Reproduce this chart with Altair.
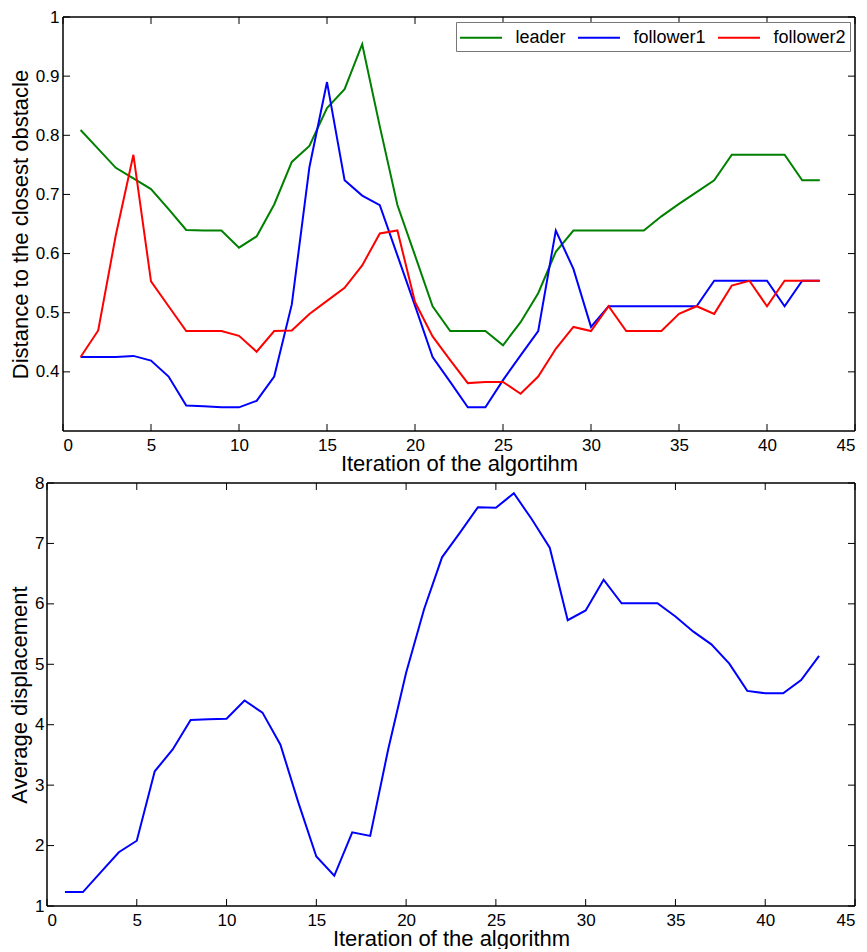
import altair as alt
import pandas as pd

# ---------------- data ----------------
iterations = list(range(1, 44))

leader = [0.809, 0.777, 0.745, 0.727, 0.709, 0.675, 0.640, 0.639, 0.639, 0.610,
          0.629, 0.683, 0.755, 0.782, 0.846, 0.878, 0.954, 0.815, 0.682, 0.597,
          0.511, 0.469, 0.469, 0.469, 0.445, 0.484, 0.533, 0.603, 0.639, 0.639,
          0.639, 0.639, 0.639, 0.663, 0.684, 0.704, 0.724, 0.767, 0.767, 0.767,
          0.767, 0.724, 0.724]

follower1 = [0.425, 0.425, 0.425, 0.427, 0.419, 0.392, 0.343, 0.342, 0.340, 0.340,
             0.351, 0.392, 0.514, 0.746, 0.890, 0.724, 0.698, 0.682, 0.597, 0.512,
             0.425, 0.383, 0.340, 0.340, 0.386, 0.428, 0.469, 0.639, 0.574, 0.476,
             0.511, 0.511, 0.511, 0.511, 0.511, 0.511, 0.554, 0.554, 0.554, 0.554,
             0.511, 0.554, 0.554]

follower2 = [0.425, 0.470, 0.631, 0.767, 0.553, 0.511, 0.469, 0.469, 0.469, 0.461,
             0.434, 0.469, 0.470, 0.498, 0.520, 0.542, 0.580, 0.634, 0.639, 0.518,
             0.460, 0.420, 0.381, 0.383, 0.383, 0.363, 0.392, 0.439, 0.476, 0.469,
             0.511, 0.469, 0.469, 0.469, 0.498, 0.511, 0.498, 0.546, 0.554, 0.511,
             0.554, 0.554, 0.554]

avg_disp = [1.23, 1.23, 1.56, 1.89, 2.08, 3.23, 3.59, 4.08, 4.09, 4.10,
            4.40, 4.20, 3.67, 2.71, 1.82, 1.50, 2.22, 2.16, 3.59, 4.86,
            5.91, 6.77, 7.18, 7.60, 7.59, 7.83, 7.40, 6.93, 5.73, 5.89,
            6.40, 6.01, 6.01, 6.01, 5.79, 5.54, 5.33, 5.01, 4.56, 4.52,
            4.52, 4.74, 5.14]

series_names = ["leader", "follower1", "follower2"]
series_colors = ["#008000", "#0000ff", "#ff0000"]

x_ticks = [0, 5, 10, 15, 20, 25, 30, 35, 40, 45]
y_ticks_top = [0.4, 0.5, 0.6, 0.7, 0.8, 0.9, 1.0]
y_ticks_bottom = [1, 2, 3, 4, 5, 6, 7, 8]

# ---------------- tables ----------------
rows = []
for name, vals in zip(series_names, [leader, follower1, follower2]):
    for i, v in zip(iterations, vals):
        rows.append({"iter": i, "value": v, "series": name})
top_df = pd.DataFrame(rows)
bottom_df = pd.DataFrame({"iter": iterations, "value": avg_disp})
xt_df = pd.DataFrame({"iter": x_ticks})
yt_top_df = pd.DataFrame({"value": y_ticks_top})
yt_bot_df = pd.DataFrame({"value": y_ticks_bottom})
one_row = pd.DataFrame({"k": [0]})

FRAME = "#000000"
TICK = 7
W, H1, H2 = 808, 414, 423
INSET = 16          # top panel's plot starts 16px right of the bottom panel's

x_scale_top = alt.Scale(domain=[0, 45], nice=False, zero=False, range=[INSET, W])
x_scale_bot = alt.Scale(domain=[0, 45], nice=False, zero=False)


def panel(line_layer, H, x_scale, x_axis, y_axis, yscale, ytdf, left):
    rule = dict(color=FRAME, strokeWidth=1)
    xb = alt.Chart(xt_df).mark_rule(**rule).encode(
        x=alt.X("iter:Q", scale=x_scale, axis=x_axis),
        y=alt.value(H), y2=alt.value(H - TICK))
    xtp = alt.Chart(xt_df).mark_rule(**rule).encode(
        x=alt.X("iter:Q", scale=x_scale, axis=x_axis),
        y=alt.value(0), y2=alt.value(TICK))
    yl = alt.Chart(ytdf).mark_rule(**rule).encode(
        y=alt.Y("value:Q", scale=yscale, axis=y_axis),
        x=alt.value(left), x2=alt.value(left + TICK))
    yr = alt.Chart(ytdf).mark_rule(**rule).encode(
        y=alt.Y("value:Q", scale=yscale, axis=y_axis),
        x=alt.value(W), x2=alt.value(W - TICK))
    fr = dict(color=FRAME, strokeWidth=1.5)
    f_top = alt.Chart(one_row).mark_rule(**fr).encode(
        x=alt.value(left), x2=alt.value(W), y=alt.value(0))
    f_bot = alt.Chart(one_row).mark_rule(**fr).encode(
        x=alt.value(left), x2=alt.value(W), y=alt.value(H))
    f_left = alt.Chart(one_row).mark_rule(**fr).encode(
        x=alt.value(left), y=alt.value(0), y2=alt.value(H))
    f_right = alt.Chart(one_row).mark_rule(**fr).encode(
        x=alt.value(W), y=alt.value(0), y2=alt.value(H))
    return alt.layer(line_layer, xb, xtp, yl, yr, f_top, f_bot, f_left, f_right
                     ).properties(width=W, height=H)


# ---------------- top panel ----------------
y_scale_top = alt.Scale(domain=[0.3, 1.0], nice=False, zero=False)
x_axis_top = alt.Axis(values=x_ticks, title="Iteration of the algortihm",
                      labelPadding=6, titlePadding=0)
y_axis_top = alt.Axis(values=y_ticks_top, format="~g", offset=-INSET,
                      title="Distance to the closest obstacle",
                      labelPadding=4, titlePadding=3)

top_lines = alt.Chart(top_df).mark_line(strokeWidth=2).encode(
    x=alt.X("iter:Q", scale=x_scale_top, axis=x_axis_top),
    y=alt.Y("value:Q", scale=y_scale_top, axis=y_axis_top),
    color=alt.Color("series:N",
                    scale=alt.Scale(domain=series_names, range=series_colors),
                    sort=series_names,
                    legend=alt.Legend(title=None, orient="top-right", offset=5,
                                      direction="horizontal",
                                      symbolType="M-2,0H2", symbolSize=441,
                                      symbolOffset=9.5,
                                      symbolStrokeWidth=2,
                                      labelFontSize=18, labelOffset=23,
                                      columnPadding=8, padding=4,
                                      strokeColor="#777777", fillColor="#ffffff",
                                      labelColor="#000000")),
    detail="series:N",
)

top = panel(top_lines, H1, x_scale_top, x_axis_top, y_axis_top,
            y_scale_top, yt_top_df, INSET)

# ---------------- bottom panel ----------------
y_scale_bot = alt.Scale(domain=[1, 8], nice=False, zero=False)
x_axis_bot = alt.Axis(values=x_ticks, title="Iteration of the algorithm",
                      labelPadding=6, titlePadding=0)
y_axis_bot = alt.Axis(values=y_ticks_bottom, format="~g",
                      title="Average displacement",
                      labelPadding=3, titlePadding=3)

bottom_line = alt.Chart(bottom_df).mark_line(strokeWidth=2, color="#0000ff").encode(
    x=alt.X("iter:Q", scale=x_scale_bot, axis=x_axis_bot),
    y=alt.Y("value:Q", scale=y_scale_bot, axis=y_axis_bot),
)

bottom = panel(bottom_line, H2, x_scale_bot, x_axis_bot, y_axis_bot,
               y_scale_bot, yt_bot_df, 0)

chart = alt.vconcat(top, bottom, spacing=0).resolve_scale(
    x="independent", y="independent", color="independent"
).properties(
    padding=0
).configure(
    font="Liberation Sans"
).configure_view(
    stroke=None
).configure_axis(
    grid=False, domain=False, ticks=False, tickSize=0,
    labelFontSize=17, titleFontSize=22, titleFontWeight="normal",
    labelColor="#000000", titleColor="#000000",
    labelFont="Liberation Sans", titleFont="Liberation Sans",
)

chart.save("out.html", embed_options={"renderer": "svg", "actions": False})
